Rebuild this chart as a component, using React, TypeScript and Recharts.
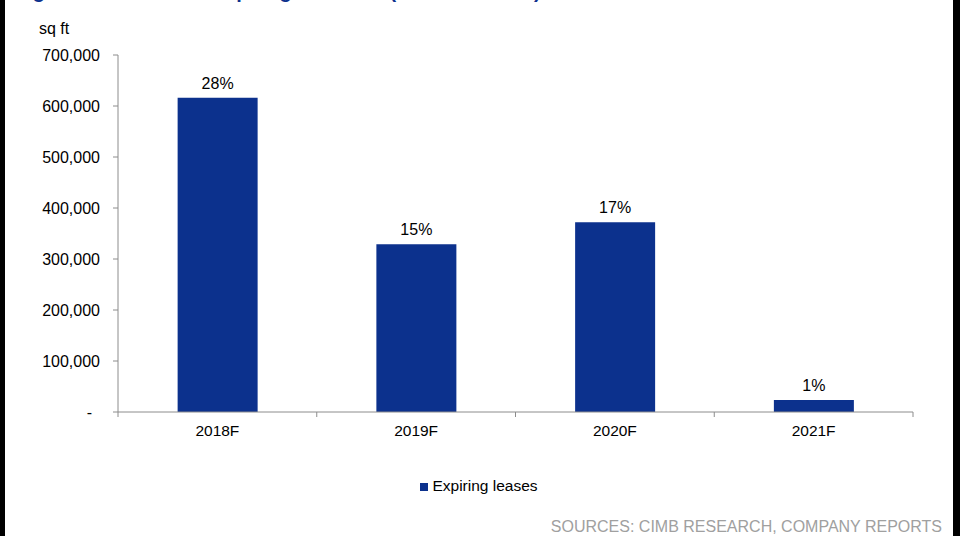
import React from "react";
import {
  BarChart,
  Bar,
  XAxis,
  YAxis,
  Legend,
  LabelList,
} from "recharts";

const categories = ["2018F", "2019F", "2020F", "2021F"];
const expiringLeases = [616000, 329000, 372000, 23500];
const shareLabels = ["28%", "15%", "17%", "1%"];
const yTicks = [0, 100000, 200000, 300000, 400000, 500000, 600000, 700000];

const FONT = '"Liberation Sans", Arial, sans-serif';
const BLUE = "#0c318d";
const AXIS = "#8c8c8c";
const X_TICK_SIZE = 5;
const X_TICK_MARGIN = 8;

const data = categories.map((c, i) => ({
  year: c,
  leases: expiringLeases[i],
  share: shareLabels[i],
}));

function XTick(props: any) {
  const { x, y, payload, index } = props;
  const axisY = y - X_TICK_SIZE - X_TICK_MARGIN;
  const half = payload?.offset ?? 99.4;
  return (
    <g>
      <line x1={x - half} y1={axisY} x2={x - half} y2={axisY + 5} stroke={AXIS} />
      {index === categories.length - 1 && (
        <line x1={x + half} y1={axisY} x2={x + half} y2={axisY + 5} stroke={AXIS} />
      )}
      <text
        x={x}
        y={y}
        dy="0.71em"
        textAnchor="middle"
        fontSize={15.5}
        fontFamily={FONT}
        fill="#000"
      >
        {payload.value}
      </text>
    </g>
  );
}

function YTick(props: any) {
  const { x, y, payload } = props;
  const v = payload.value;
  return (
    <text
      x={v === 0 ? x - 8 : x}
      y={y}
      dy="0.355em"
      textAnchor="end"
      fontSize={16}
      fontFamily={FONT}
      fill="#000"
    >
      {v === 0 ? "-" : v.toLocaleString("en-US")}
    </text>
  );
}

export default function App() {
  return (
    <div
      style={{
        position: "absolute",
        left: 0,
        top: 0,
        width: 960,
        height: 536,
        background: "#000",
        overflow: "hidden",
        fontFamily: FONT,
      }}
    >
      <style>{`body{margin:0}`}</style>
      <div
        style={{
          position: "absolute",
          left: 5,
          top: 0,
          width: 948,
          height: 536,
          background: "#fff",
          overflow: "hidden",
        }}
      >
        {/* title is cropped at the top edge, as in the source image */}
        <div
          style={{
            position: "absolute",
            left: 10,
            top: -19.6,
            fontSize: 20,
            lineHeight: "22px",
            fontWeight: "bold",
            color: BLUE,
            whiteSpace: "nowrap",
          }}
        >
          Figure 15: Total NLA expiring schedule (as at end-2017)
        </div>
        <div
          style={{
            position: "absolute",
            left: 34,
            top: 19.5,
            fontSize: 16,
            lineHeight: "18px",
            color: "#000",
          }}
        >
          sq ft
        </div>

        <BarChart
          width={948}
          height={536}
          data={data}
          margin={{ top: 55, right: 40, left: 0, bottom: 74 }}
          barCategoryGap="30%"
          style={{ fontFamily: FONT }}
        >
          <XAxis
            dataKey="year"
            interval={0}
            height={30}
            tickLine={false}
            tickSize={X_TICK_SIZE}
            tickMargin={X_TICK_MARGIN}
            axisLine={{ stroke: AXIS }}
            tick={<XTick />}
          />
          <YAxis
            width={113}
            domain={[0, 700000]}
            ticks={yTicks}
            interval={0}
            tickSize={5}
            tickMargin={13}
            axisLine={{ stroke: AXIS }}
            tickLine={{ stroke: AXIS }}
            tick={<YTick />}
          />
          <Legend
            verticalAlign="bottom"
            iconType="square"
            iconSize={8}
            wrapperStyle={{
              top: 476,
              left: 5,
              width: 948,
              height: 20,
              lineHeight: "20px",
            }}
            formatter={(value: any) => (
              <span style={{ color: "#000", fontSize: 15.5, fontFamily: FONT }}>
                {value}
              </span>
            )}
          />
          <Bar
            dataKey="leases"
            name="Expiring leases"
            fill={BLUE}
            isAnimationActive={false}
          >
            <LabelList
              dataKey="share"
              position="top"
              offset={9}
              fill="#000"
              fontSize={16}
              fontFamily={FONT}
            />
          </Bar>
        </BarChart>

        <div
          style={{
            position: "absolute",
            right: 11,
            top: 518,
            fontSize: 16,
            lineHeight: "18px",
            color: "#a0a0a0",
            whiteSpace: "nowrap",
          }}
        >
          SOURCES: CIMB RESEARCH, COMPANY REPORTS
        </div>
      </div>
    </div>
  );
}
